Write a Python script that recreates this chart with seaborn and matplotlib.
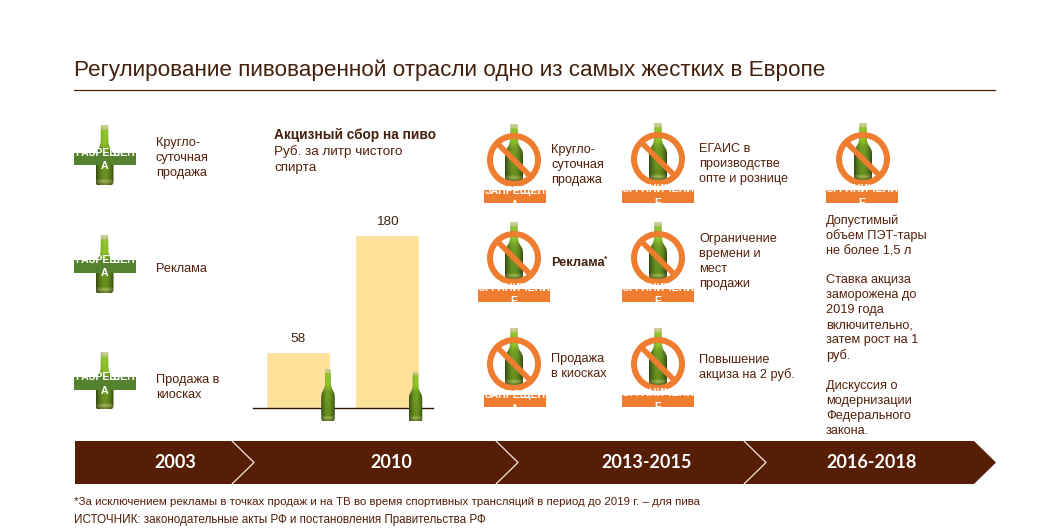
import numpy as np
import matplotlib
matplotlib.use("Agg")
import matplotlib.pyplot as plt
import seaborn as sns
from matplotlib.patches import Polygon, Rectangle, Circle

# ---- data ----
title = "Регулирование пивоваренной отрасли одно из самых жестких в Европе"
excise_categories = ["Период 1", "Период 2"]
excise_values = [58, 180]
excise_heading = "Акцизный сбор на пиво"
excise_sub = ["Руб. за литр чистого", "спирта"]
periods = ["2003", "2010", "2013-2015", "2016-2018"]
allowed_items = [["Кругло-", "суточная", "продажа"], ["Реклама"], ["Продажа в", "киосках"]]
col1_items = [["Кругло-", "суточная", "продажа"], ["Продажа", "в киосках"]]
col2_items = [["ЕГАИС в", "производстве", "опте и рознице"],
              ["Ограничение", "времени и", "мест", "продажи"],
              ["Повышение", "акциза на 2 руб."]]
col3_items = [["Допустимый", "объем ПЭТ-тары", "не более 1,5 л"],
              ["Ставка акциза", "заморожена до", "2019 года", "включительно,", "затем рост на 1", "руб."],
              ["Дискуссия о", "модернизации", "Федерального", "закона."]]
footnote = "*За исключением рекламы в точках продаж и на ТВ во время спортивных трансляций в период до 2019 г. – для пива"
source = "ИСТОЧНИК: законодательные акты РФ и постановления Правительства РФ"

BROWN = "#561e04"
TXT = "#52200a"
ORANGE = "#ee7d2f"
GREEN = "#55822f"
BAR = "#FFE299"
W, H = 1062, 532
PT = 0.72

sns.set_theme(style="white")
plt.rcParams["font.family"] = ["Liberation Sans", "DejaVu Sans"]

fig = plt.figure(figsize=(W / 100, H / 100), dpi=100, facecolor="white")

# ---- seaborn bars ----
bx0, bx1, by0, by1 = 253, 433, 408, 200
ax_bar = fig.add_axes([bx0 / W, 1 - by0 / H, (bx1 - bx0) / W, (by0 - by1) / H])
sns.barplot(x=excise_categories, y=excise_values, color=BAR, saturation=1, width=0.72, ax=ax_bar)
ax_bar.set_xlim(-0.506, 1.517)
ax_bar.set_ylim(0, 208 / 0.96)
ax_bar.set_xticks([])
ax_bar.set_yticks([])
ax_bar.set_xlabel("")
ax_bar.set_ylabel("")
sns.despine(ax=ax_bar, left=True)
ax_bar.spines["bottom"].set_color("#2a1205")
ax_bar.spines["bottom"].set_linewidth(1.0)
ax_bar.patch.set_visible(False)
ax_bar.bar_label(ax_bar.containers[0], padding=5, fontsize=9.7, color="#3c2412")

# ---- overlay in pixel coordinates ----
ax = fig.add_axes([0, 0, 1, 1], zorder=3)
ax.patch.set_visible(False)
ax.set_axis_off()


def text_lines(x, y, lines, step=15.2, **kw):
    kw.setdefault("fontsize", 9.2)
    kw.setdefault("color", TXT)
    for i, s in enumerate(lines):
        ax.text(x, y + 0.7 + i * step, s, ha="left", va="center", **kw)


def bottle(cx, top, bottom, width, z=3):
    h = bottom - top
    hw = width / 2
    prof = [(0.20, 0), (0.22, 0.30), (0.27, 0.36), (0.47, 0.47), (0.50, 0.53),
            (0.50, 0.96), (0.42, 1.0)]
    pts = [(cx - a * width, top + b * h) for a, b in prof]
    pts += [(cx + a * width, top + b * h) for a, b in reversed(prof)]
    poly = Polygon(pts, closed=True, transform=ax.transData)
    ny, nx = 40, 20
    yy = np.linspace(0, 1, ny)[:, None]
    xx = np.linspace(-1, 1, nx)[None, :]
    anchors_y = [0, 0.05, 0.08, 0.30, 0.42, 0.90, 0.95, 1.0]
    r = np.interp(yy, anchors_y, [0.72, 0.70, 0.50, 0.50, 0.40, 0.36, 0.56, 0.38])
    g = np.interp(yy, anchors_y, [0.74, 0.70, 0.70, 0.68, 0.56, 0.50, 0.64, 0.44])
    b = np.interp(yy, anchors_y, [0.55, 0.45, 0.16, 0.14, 0.13, 0.11, 0.28, 0.16])
    shade = 1.12 - 0.55 * np.abs(xx) ** 2
    img = np.clip(np.dstack([r * shade, g * shade, b * shade]), 0, 1)
    im = ax.imshow(img, extent=(cx - hw, cx + hw, bottom, top), origin="upper",
                   aspect="auto", interpolation="bilinear", zorder=z)
    im.set_clip_path(poly)


def band(x0, x1, top, color, words, dy):
    ax.add_patch(Rectangle((x0, top), x1 - x0, 12.5, facecolor=color, edgecolor="none", zorder=4))
    cx = (x0 + x1) / 2
    ax.text(cx, top + dy, words[0], ha="center", va="center", color="white",
            fontsize=7.6, fontweight="bold", zorder=5)
    ax.text(cx, top + dy + 13.5, words[1], ha="center", va="center", color="white",
            fontsize=7.6, fontweight="bold", zorder=5)


def forbidden(cx, cy, x0, x1, band_top, words, dy):
    bottle(cx, cy - 36, cy + 21, 18)
    ax.add_patch(Circle((cx, cy), 24, facecolor="none", edgecolor=ORANGE, linewidth=6 * PT, zorder=4))
    d = 24 * np.sqrt(0.5)
    ax.plot([cx - d, cx + d], [cy - d, cy + d], color=ORANGE, lw=5.6 * PT, solid_capstyle="butt", zorder=4)
    band(x0, x1, band_top, ORANGE, words, dy)


# title and rule
ax.text(74, 70.5, title, ha="left", va="center", fontsize=16.2, color="#43200c")
ax.plot([74, 995], [90, 90], color="#4a2208", lw=0.9)

# allowed column
for top, bot, btop in [(125, 185, 152.5), (235, 293, 260), (352, 409, 377)]:
    bottle(104.5, top, bot, 18)
    band(74, 136, btop, GREEN, ["РАЗРЕШЕН", "А"], dy=0)
text_lines(156, 142, allowed_items[0])
text_lines(156, 268, allowed_items[1])
text_lines(156, 379, allowed_items[2])

# excise text
ax.text(274, 135, excise_heading, ha="left", va="center", fontsize=9.85, fontweight="bold", color="#43200c")
text_lines(274, 151, excise_sub, step=16.5, fontsize=9.7)
bottle(328, 369, 421, 13.5)
bottle(415.5, 372, 421.5, 13.5)

# 2013-2015 columns
OGR = ["ОГРАНИЧЕНИ", "Е"]
ZAP = ["ЗАПРЕЩЕН", "А"]
forbidden(514, 160, 484, 546, 190, ZAP, 1.0)
forbidden(514, 258, 478, 550, 289, OGR, -1.0)
forbidden(514, 364, 484, 546, 394.5, ZAP, 1.0)
forbidden(658, 159, 622, 694, 190, OGR, -1.0)
forbidden(658, 258, 622, 694, 289, OGR, -1.0)
forbidden(658, 364, 622, 694, 394.5, OGR, -1.0)
forbidden(863, 159, 826, 898, 190, OGR, -1.0)

text_lines(551, 149, col1_items[0])
ax.text(551, 263, "Реклама", ha="left", va="center", fontsize=9.2, fontweight="bold", color="#43200c")
ax.text(604, 259, "*", ha="left", va="center", fontsize=6, fontweight="bold", color="#43200c")
text_lines(551, 358, col1_items[1])
text_lines(699, 148, col2_items[0])
text_lines(699, 238, col2_items[1])
text_lines(699, 359, col2_items[2])
text_lines(826, 220, col3_items[0])
text_lines(826, 279, col3_items[1])
text_lines(826, 385, col3_items[2])

# timeline arrow
ax.add_patch(Polygon([(75, 441), (974, 441), (996, 462.5), (974, 484), (75, 484)],
                     closed=True, facecolor=BROWN, edgecolor="none", zorder=2))
for x in [232, 496, 744]:
    ax.plot([x, x + 22, x], [441, 462.5, 484], color="#f3e6da", lw=0.9, zorder=3)
for x, s in zip([175, 391, 647, 872], periods):
    ax.text(x, 462, s, ha="center", va="center", color="white", fontsize=13,
            fontweight="bold", family="Lato", zorder=3)

# footnotes
ax.text(74, 501.7, footnote, ha="left", va="center", fontsize=8.28, color=TXT)
ax.text(74, 519.7, source, ha="left", va="center", fontsize=8.33, color=TXT)

ax.set_xlim(0, W)
ax.set_ylim(H, 0)
fig.savefig("out.png", dpi=100, facecolor="white")
